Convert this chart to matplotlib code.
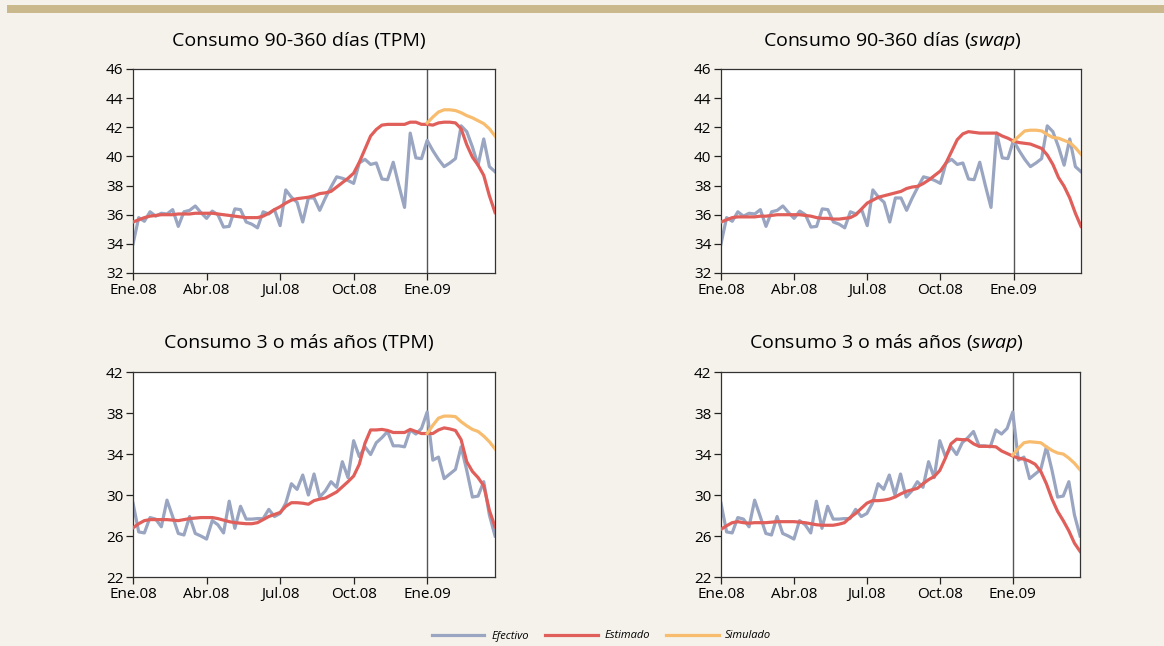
import numpy as np
import matplotlib
matplotlib.use('Agg')
from matplotlib import pyplot as plt
from matplotlib.lines import Line2D

plt.rcParams['font.family'] = ['Open Sans', 'DejaVu Sans']
plt.rcParams['mathtext.fontset'] = 'custom'
plt.rcParams['mathtext.rm'] = 'Open Sans'
plt.rcParams['mathtext.it'] = 'Open Sans:italic'

# semanas desde ene.08
semanas = np.arange(65)
semanas_sim = np.arange(52, 65)
tick_pos = [0, 13, 26, 39, 52]
tick_lab = ['Ene.08', 'Abr.08', 'Jul.08', 'Oct.08', 'Ene.09']

# Consumo 90-360 dias
efectivo_90 = [34.0, 35.8, 35.55, 36.2, 35.9, 36.1, 36.05, 36.35, 35.2, 36.2,
               36.3, 36.6, 36.15, 35.75, 36.25, 36.0, 35.15, 35.2, 36.4, 36.35,
               35.5, 35.35, 35.1, 36.2, 36.05, 36.35, 35.25, 37.7, 37.2, 36.85,
               35.5, 37.15, 37.15, 36.3, 37.15, 37.9, 38.6, 38.5, 38.35, 38.15,
               39.55, 39.8, 39.45, 39.55, 38.45, 38.4, 39.6, 38.0, 36.5, 41.6,
               39.9, 39.85, 41.1, 40.4, 39.8, 39.3, 39.55, 39.85, 42.1, 41.7,
               40.65, 39.4, 41.2, 39.3, 38.95]
estimado_90_tpm = [35.5, 35.65, 35.8, 35.9, 35.95, 36.0, 36.0, 36.0, 36.05, 36.05,
                   36.05, 36.1, 36.1, 36.1, 36.1, 36.05, 36.0, 35.95, 35.9, 35.85,
                   35.8, 35.8, 35.8, 35.9, 36.1, 36.35, 36.55, 36.8, 37.0, 37.1,
                   37.15, 37.2, 37.3, 37.45, 37.5, 37.6, 37.9, 38.2, 38.5, 38.85,
                   39.6, 40.5, 41.4, 41.85, 42.15, 42.2, 42.2, 42.2, 42.2, 42.35,
                   42.35, 42.2, 42.2, 42.15, 42.3, 42.35, 42.35, 42.3, 41.9, 40.8,
                   39.95, 39.4, 38.7, 37.3, 36.15]
estimado_90_swap = [35.5, 35.65, 35.8, 35.85, 35.85, 35.85, 35.85, 35.9, 35.9, 35.95,
                    36.0, 36.0, 36.0, 36.0, 36.0, 35.95, 35.9, 35.8, 35.75, 35.75,
                    35.7, 35.7, 35.75, 35.8, 36.0, 36.4, 36.8, 37.0, 37.2, 37.3,
                    37.4, 37.5, 37.6, 37.8, 37.9, 37.95, 38.15, 38.4, 38.7, 39.0,
                    39.55, 40.35, 41.15, 41.55, 41.7, 41.65, 41.6, 41.6, 41.6, 41.6,
                    41.4, 41.25, 41.05, 40.95, 40.9, 40.85, 40.7, 40.55, 40.1, 39.45,
                    38.55, 37.95, 37.15, 36.1, 35.2]
simulado_90_tpm = [42.3, 42.7, 43.05, 43.2, 43.2, 43.15, 43.0, 42.8, 42.65, 42.45,
                   42.25, 41.9, 41.4]
simulado_90_swap = [41.05, 41.4, 41.75, 41.8, 41.8, 41.75, 41.5, 41.3, 41.25, 41.1,
                    40.95, 40.6, 40.15]

# Consumo 3 o mas anos
efectivo_3 = [29.2, 26.4, 26.3, 27.8, 27.65, 26.9, 29.5, 27.9, 26.25, 26.1,
              27.9, 26.25, 26.0, 25.7, 27.5, 27.1, 26.3, 29.4, 26.75, 28.9,
              27.65, 27.65, 27.7, 27.7, 28.6, 27.9, 28.2, 29.2, 31.1, 30.55,
              31.95, 30.0, 32.05, 29.8, 30.4, 31.3, 30.75, 33.25, 31.7, 35.3,
              33.75, 34.7, 33.95, 35.1, 35.6, 36.2, 34.8, 34.8, 34.7, 36.35,
              35.95, 36.5, 38.1, 33.4, 33.7, 31.6, 32.05, 32.5, 34.7, 32.4,
              29.8, 29.9, 31.3, 28.05, 26.0]
estimado_3_tpm = [26.8, 27.2, 27.5, 27.6, 27.6, 27.6, 27.6, 27.55, 27.5, 27.6,
                  27.7, 27.75, 27.8, 27.8, 27.8, 27.7, 27.55, 27.4, 27.3, 27.25,
                  27.2, 27.2, 27.3, 27.6, 27.9, 28.1, 28.3, 28.9, 29.25, 29.25,
                  29.2, 29.1, 29.45, 29.6, 29.7, 30.0, 30.3, 30.8, 31.3, 31.85,
                  33.0, 35.05, 36.35, 36.35, 36.4, 36.3, 36.1, 36.1, 36.1, 36.4,
                  36.2, 36.0, 36.0, 36.0, 36.35, 36.55, 36.45, 36.3, 35.4, 33.25,
                  32.3, 31.7, 30.9, 28.5, 26.9]
estimado_3_swap = [26.65, 27.0, 27.3, 27.4, 27.3, 27.25, 27.3, 27.3, 27.3, 27.35,
                   27.4, 27.4, 27.4, 27.4, 27.35, 27.3, 27.2, 27.1, 27.05, 27.05,
                   27.05, 27.15, 27.3, 27.8, 28.2, 28.7, 29.2, 29.45, 29.45, 29.5,
                   29.6, 29.8, 30.1, 30.35, 30.5, 30.65, 31.1, 31.5, 31.8, 32.4,
                   33.6, 35.0, 35.45, 35.4, 35.4, 35.0, 34.75, 34.75, 34.75, 34.7,
                   34.3, 34.05, 33.8, 33.6, 33.5, 33.3, 33.0, 32.3, 31.1, 29.6,
                   28.4, 27.5, 26.5, 25.3, 24.5]
simulado_3_tpm = [36.0, 36.8, 37.5, 37.7, 37.7, 37.65, 37.15, 36.75, 36.4, 36.2,
                  35.75, 35.2, 34.5]
simulado_3_swap = [33.9, 34.55, 35.1, 35.2, 35.15, 35.1, 34.7, 34.35, 34.1, 34.0,
                   33.6, 33.1, 32.45]

c_efe = '#99a5c1'
c_est = '#e05f5a'
c_sim = '#f8bc6e'
fondo = '#f5f2eb'

fig = plt.figure(figsize=(11.64, 6.46), dpi=100, facecolor=fondo)
# franja superior
fig.patches.append(plt.Rectangle((0.006, 0.980), 0.994, 0.013, transform=fig.transFigure,
                                 facecolor='#c9b98c', edgecolor='none'))


def panel(pos, efe, est, sim, yticks, titulo, tx, ty):
    ax = fig.add_axes(pos)
    ax.set_facecolor('white')
    ax.axvline(52, color='#555555', lw=1.0, zorder=1)
    ax.plot(semanas, efe, color=c_efe, lw=2.3, zorder=2)
    ax.plot(semanas, est, color=c_est, lw=2.3, zorder=3)
    ax.plot(semanas_sim, sim, color=c_sim, lw=2.3, zorder=4)
    ax.set_xlim(0, 64)
    ax.set_ylim(yticks[0], yticks[-1])
    ax.set_yticks(yticks)
    ax.set_xticks(tick_pos)
    ax.set_xticklabels(tick_lab)
    ax.tick_params(direction='out', length=5, width=0.9, labelsize=11, color='#222222', pad=2)
    for s in ax.spines.values():
        s.set_color('#333333')
        s.set_linewidth(0.9)
    fig.text(tx, ty, titulo, ha='center', va='center', fontsize=14)
    return ax


panel([0.1143, 0.5774, 0.311, 0.3158], efectivo_90, estimado_90_tpm, simulado_90_tpm,
      list(range(32, 47, 2)), 'Consumo 90-360 días (TPM)', 299 / 1164, 1 - 41 / 646)
panel([0.6194, 0.5774, 0.3093, 0.3158], efectivo_90, estimado_90_swap, simulado_90_swap,
      list(range(32, 47, 2)), r'Consumo 90-360 días ($\mathit{swap}$)', 892 / 1164, 1 - 41 / 646)
panel([0.1143, 0.1068, 0.311, 0.3173], efectivo_3, estimado_3_tpm, simulado_3_tpm,
      list(range(22, 43, 4)), 'Consumo 3 o más años (TPM)', 299 / 1164, 1 - 343 / 646)
panel([0.6194, 0.1068, 0.3085, 0.3173], efectivo_3, estimado_3_swap, simulado_3_swap,
      list(range(22, 43, 4)), r'Consumo 3 o más años ($\mathit{swap}$)', 886 / 1164, 1 - 343 / 646)

handles = [Line2D([], [], color=c_efe, lw=2.3),
           Line2D([], [], color=c_est, lw=2.3),
           Line2D([], [], color=c_sim, lw=2.3)]
fig.legend(handles, ['Efectivo', 'Estimado', 'Simulado'], loc='center', ncol=3,
           bbox_to_anchor=(0.517, 1 - 636 / 646), frameon=False,
           prop={'style': 'italic', 'size': 8}, handlelength=4.7,
           handletextpad=0.6, columnspacing=1.5)

fig.savefig('out.png', dpi=100, facecolor=fondo)
